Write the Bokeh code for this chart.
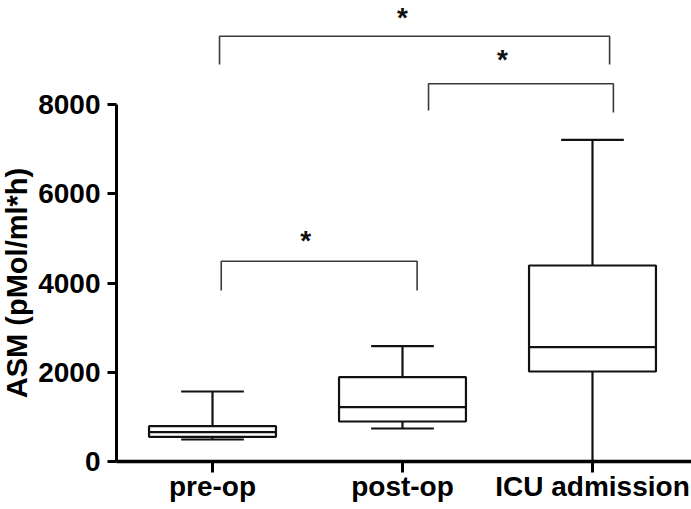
from bokeh.plotting import figure
from bokeh.models import FixedTicker, Range1d, ColumnDataSource
from bokeh.core.properties import value
from bokeh.embed import file_html
from bokeh.resources import INLINE

# ---- data ----
groups = ["pre-op", "post-op", "ICU admission"]
positions = [1, 2, 3]
whisker_low = [503, 750, 20]
q1 = [564, 906, 2025]
median = [667, 1226, 2569]
q3 = [801, 1898, 4397]
whisker_high = [1578, 2591, 7210]

# significance brackets
br_x_left = [1.046, 2.137, 1.037]
br_x_right = [2.077, 3.11, 3.09]
br_y_top = [4493, 8463, 9528]
br_y_left = [3837, 7865, 8895]
br_y_right = [3837, 7820, 8895]
star_x = [1.49, 2.526, 2.0]
star_y = [4963, 9013, 9950]
star_text = ["*", "*", "*"]

y_ticks = [0, 2000, 4000, 6000, 8000]

box_w = 0.668
cap_w = 0.33

FONT = "Liberation Sans"

X0, X1 = -0.1158, 3.5211
Y0, Y1 = -1063, 10327
YAXIS_X = 0.4947

p = figure(width=691, height=509, output_backend="svg", toolbar_location=None,
           x_range=Range1d(X0, X1), y_range=Range1d(Y0, Y1),
           min_border_left=0, min_border_right=0, min_border_top=0, min_border_bottom=0)
p.outline_line_color = None
p.xgrid.visible = False
p.ygrid.visible = False
p.background_fill_color = "white"

src = ColumnDataSource(dict(
    x=positions,
    left=[x - box_w / 2 for x in positions],
    right=[x + box_w / 2 for x in positions],
    capl=[x - cap_w / 2 for x in positions],
    capr=[x + cap_w / 2 for x in positions],
    lo=whisker_low, q1=q1, med=median, q3=q3, hi=whisker_high,
))

LC = "#111111"
LW = 2.2
p.segment(x0="x", y0="q3", x1="x", y1="hi", source=src, line_color=LC, line_width=LW)
p.segment(x0="x", y0="lo", x1="x", y1="q1", source=src, line_color=LC, line_width=LW)
p.segment(x0="capl", y0="hi", x1="capr", y1="hi", source=src, line_color=LC, line_width=LW)
p.segment(x0="capl", y0="lo", x1="capr", y1="lo", source=src, line_color=LC, line_width=LW)
p.quad(left="left", right="right", bottom="q1", top="q3", source=src,
       fill_color="white", line_color=LC, line_width=LW)
p.segment(x0="left", y0="med", x1="right", y1="med", source=src, line_color=LC, line_width=LW)

xs = [[a, a, b, b] for a, b in zip(br_x_left, br_x_right)]
ys = [[l, t, t, r] for l, t, r in zip(br_y_left, br_y_top, br_y_right)]
p.multi_line(xs=xs, ys=ys, line_color="#3a3a3a", line_width=1.6)

p.text(x=star_x, y=star_y, text=star_text, text_font=value(FONT), text_font_size="28px",
       text_font_style="bold", text_align="center", text_baseline="middle", text_color="#111111")

# axes
ya = p.yaxis[0]
ya.fixed_location = YAXIS_X
ya.ticker = FixedTicker(ticks=y_ticks)
ya.bounds = (0, 8000)
ya.axis_line_width = 3
ya.major_tick_line_width = 3
ya.major_tick_out = 9
ya.major_tick_in = 0
ya.minor_tick_out = 0
ya.minor_tick_in = 0
ya.major_label_text_font = FONT
ya.major_label_text_font_size = "28px"
ya.major_label_text_font_style = "bold"
ya.major_label_text_color = "black"
ya.major_label_standoff = 7
ya.axis_label = "ASM (pMol/ml*h)"
ya.axis_label_text_font = FONT
ya.axis_label_text_font_size = "29px"
ya.axis_label_text_font_style = "bold"
ya.axis_label_text_color = "black"
ya.axis_label_standoff = 2
ya.axis_line_color = "black"
ya.major_tick_line_color = "black"

xa = p.xaxis[0]
xa.fixed_location = 0
xa.ticker = FixedTicker(ticks=positions)
xa.bounds = (YAXIS_X, X1)
xa.major_label_overrides = {pos: g for pos, g in zip(positions, groups)}
xa.axis_line_width = 3.5
xa.major_tick_line_width = 3
xa.major_tick_out = 11
xa.major_tick_in = 0
xa.minor_tick_out = 0
xa.minor_tick_in = 0
xa.major_label_text_font = FONT
xa.major_label_text_font_size = "28px"
xa.major_label_text_font_style = "bold"
xa.major_label_text_color = "black"
xa.major_label_standoff = -2
xa.axis_line_color = "black"
xa.major_tick_line_color = "black"

open("out.html", "w").write(file_html(p, INLINE))
